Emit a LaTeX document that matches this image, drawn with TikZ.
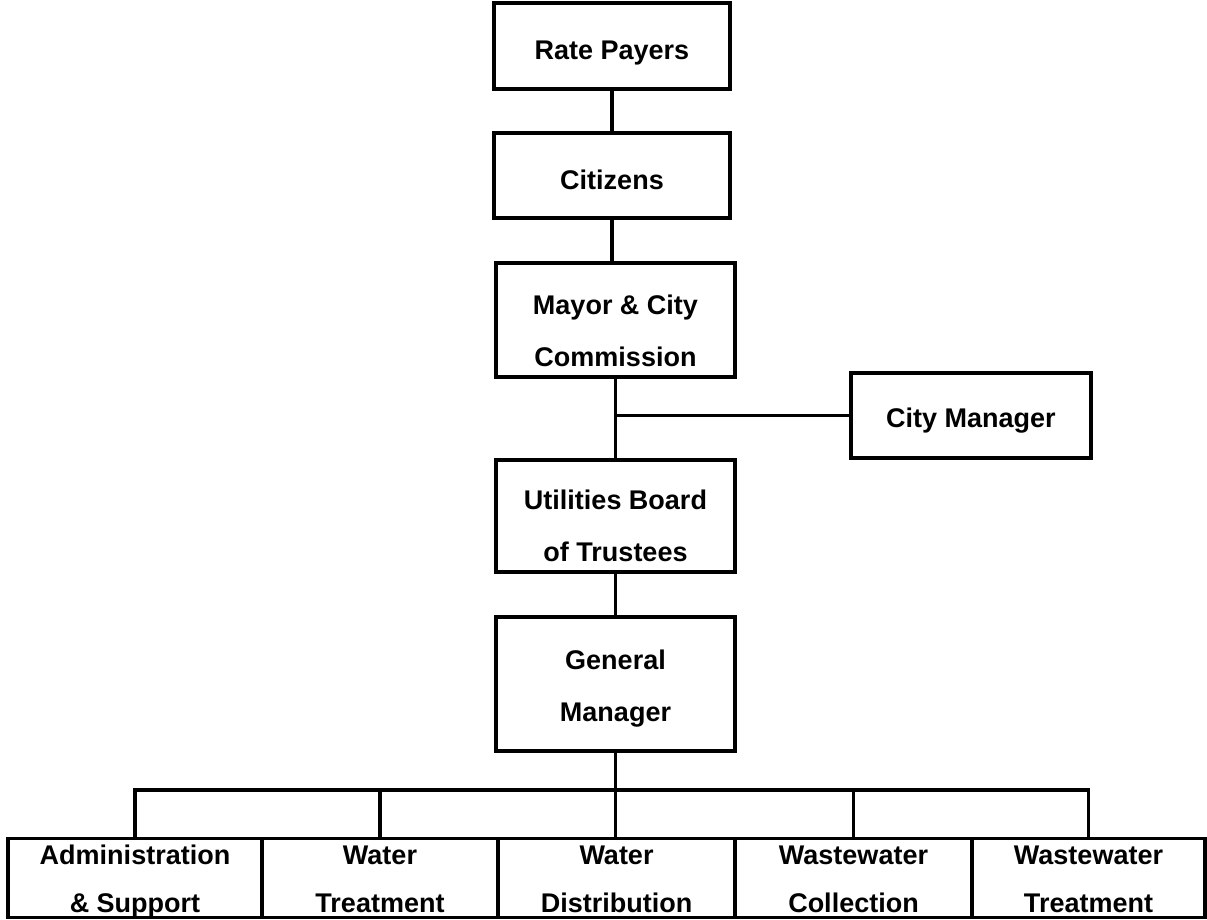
\documentclass[tikz,border=0pt]{standalone}
\usepackage{fontspec}
\setmainfont{Liberation Sans}
\newcommand{\orgtxt}[2]{\rule{0pt}{#1pt}#2\rule[-8pt]{0pt}{0pt}}
\begin{document}
\begin{tikzpicture}[x=1pt,y=-1pt,
  orgbox/.style={draw=black, line width=3.2pt, fill=white, inner xsep=0pt, inner ysep=-20pt,
    align=center, font=\fontsize{27}{52}\selectfont\bfseries},
  unitbox/.style={orgbox, font=\fontsize{27}{48}\selectfont\bfseries, minimum height=79},
  conn/.style={draw=black, line width=3.2pt}]
\useasboundingbox (0,0) rectangle (1207,920);
\node[orgbox, minimum width=236, minimum height=86] (rp) at (612,46) {\orgtxt{35.4}{Rate Payers}};
\node[orgbox, minimum width=236, minimum height=85] (cit) at (612,175.5) {\orgtxt{36.4}{Citizens}};
\node[orgbox, minimum width=239, minimum height=114] (mayor) at (615.5,320) {\orgtxt{49.4}{Mayor \& City\\Commission}};
\node[orgbox, minimum width=240, minimum height=85] (cm) at (971,415.5) {\orgtxt{32.4}{City Manager}};
\node[orgbox, minimum width=239, minimum height=112] (util) at (615.5,516) {\orgtxt{47.4}{Utilities Board\\of Trustees}};
\node[orgbox, minimum width=239, minimum height=134] (gm) at (615.5,684) {\orgtxt{31.4}{General\\Manager}};
\node[unitbox, minimum width=254] (a) at (135,878) {\orgtxt{29.4}{Administration\\\& Support}};
\node[unitbox, minimum width=236] (b) at (380,878) {\orgtxt{29.4}{Water\\Treatment}};
\node[unitbox, minimum width=237] (c) at (616.5,878) {\orgtxt{29.4}{Water\\Distribution}};
\node[unitbox, minimum width=237] (d) at (853.5,878) {\orgtxt{29.4}{Wastewater\\Collection}};
\node[unitbox, minimum width=233] (e) at (1088.5,878) {\orgtxt{29.4}{Wastewater\\Treatment}};
\coordinate (bus) at (0,790);
\draw[conn] (rp) -- (cit);
\draw[conn] (cit.south) -- (cit.south |- mayor.north);
\draw[conn] (mayor) -- (util);
\draw[conn] (mayor.south |- cm.west) -- (cm.west);
\draw[conn] (util) -- (gm);
\draw[conn] (gm.south) -- (gm.south |- c.north);
\draw[conn] (a.north) -- (a.north |- bus) -- (e.north |- bus) -- (e.north);
\draw[conn] (b.north) -- (b.north |- bus);
\draw[conn] (d.north) -- (d.north |- bus);
\end{tikzpicture}
\end{document}
